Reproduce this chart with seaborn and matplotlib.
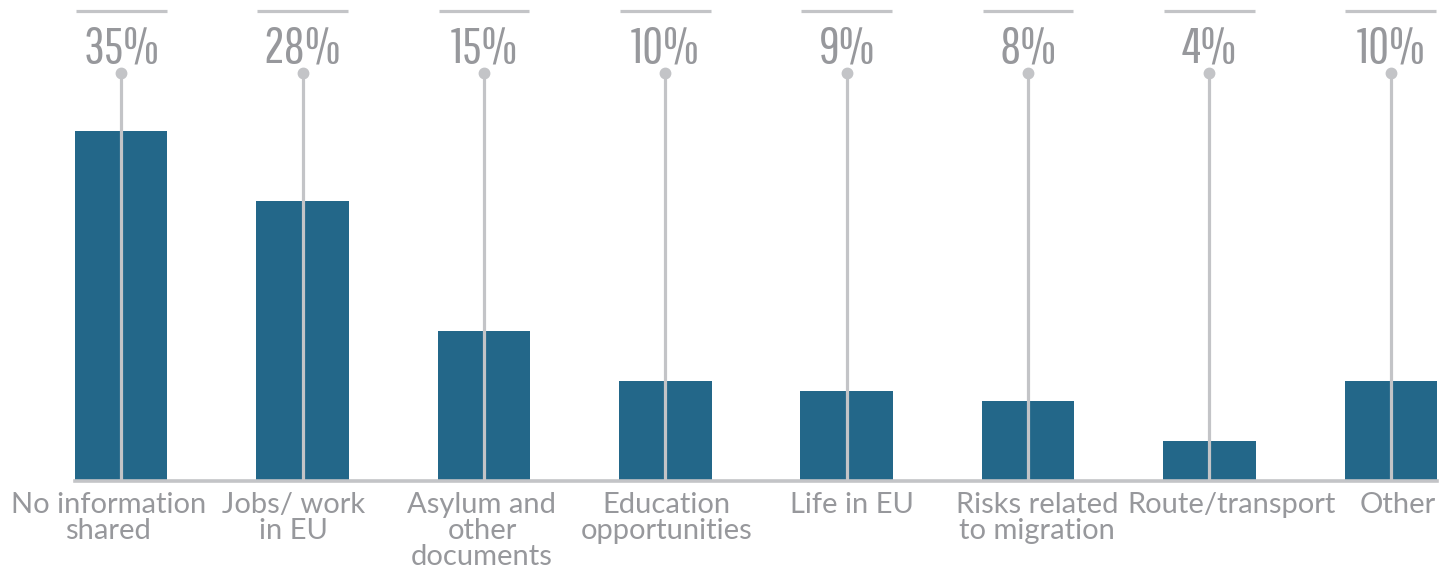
import matplotlib
matplotlib.use("Agg")
import matplotlib.pyplot as plt
from matplotlib.transforms import ScaledTranslation
import seaborn as sns
import pandas as pd

categories = ["No information\nshared", "Jobs/ work\nin EU", "Asylum and\nother\ndocuments",
              "Education\nopportunities", "Life in EU", "Risks related\nto migration",
              "Route/transport", "Other"]
values = [35, 28, 15, 10, 9, 8, 4, 10]
labels = ["35%", "28%", "15%", "10%", "9%", "8%", "4%", "10%"]

BAR = "#236789"
GRID = "#c3c4c7"
TEXT = "#97989c"
WIDTH = 0.51

sns.set_theme(style="white")
plt.rcParams["font.family"] = ["Lato", "DejaVu Sans"]

fig = plt.figure(figsize=(14.55, 5.71), dpi=100)
ax = fig.add_axes([75 / 1455, 1 - 481 / 571, (1437 - 75) / 1455, 481 / 571])
df = pd.DataFrame({"cat": categories, "val": values})
sns.barplot(data=df, x="cat", y="val", color=BAR, width=WIDTH, saturation=1,
            linewidth=0, ax=ax, zorder=2)

ax.set_xlim(-WIDTH / 2, len(values) - 1 + WIDTH / 2)
ax.set_ylim(0, 48.1)

xs = list(range(len(values)))
stem_top = 40.8
ax.vlines(xs, 0, stem_top, color=GRID, lw=2.3, zorder=3)
ax.plot(xs, [stem_top] * len(xs), "o", color=GRID, ms=7.5, zorder=4, clip_on=False)
ax.hlines([47.0] * len(xs), [x - WIDTH / 2 + 0.005 for x in xs], [x + WIDTH / 2 - 0.005 for x in xs],
          color=GRID, lw=2.3, zorder=3, clip_on=False)
for x, lab in zip(xs, labels):
    ax.text(x, 41.9, lab, ha="center", va="baseline", fontsize=37, color=TEXT,
            family=["Pathway Gothic One", "DejaVu Sans"], clip_on=False)

for s in ["left", "right", "top"]:
    ax.spines[s].set_visible(False)
ax.spines["bottom"].set_color(GRID)
ax.spines["bottom"].set_linewidth(2.6)
ax.spines["bottom"].set_zorder(5)
ax.set_yticks([])
ax.set_xlabel("")
ax.set_ylabel("")
ax.tick_params(axis="x", length=0, pad=8)
ax.set_xticks(xs)
ax.set_xticklabels(categories, fontsize=21, color=TEXT, linespacing=1.0)

# nudge the category captions sideways so the long ones do not collide
nudges_px = [-13, -9, -2, 1, 5, 9, 22, 7]
for tl, dx in zip(ax.get_xticklabels(), nudges_px):
    tl.set_transform(tl.get_transform() + ScaledTranslation(dx / 100, 0, fig.dpi_scale_trans))

fig.savefig("out.png", dpi=100)
